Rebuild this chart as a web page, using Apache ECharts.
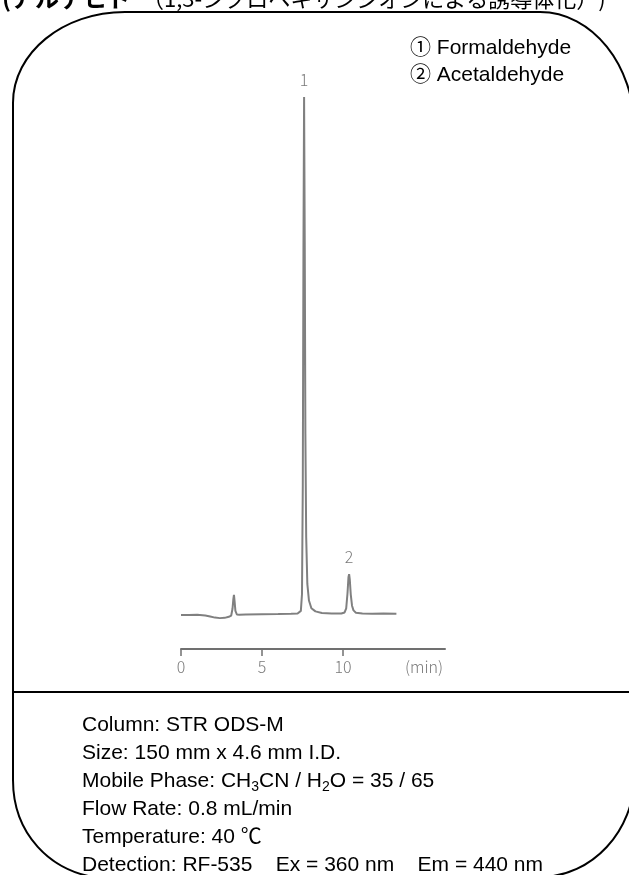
<!DOCTYPE html>
<html>
<head>
<meta charset="utf-8">
<script src="https://cdn.jsdelivr.net/npm/echarts@6/dist/echarts.min.js"></script>
<style>
html,body{margin:0;padding:0;background:#fff;}
#c{width:629px;height:875px;}
</style>
</head>
<body>
<div id="c"></div>
<script>
// ---- data ----
var times  = [0, 0.5, 1.0, 1.5, 1.8, 2.1, 2.4, 2.7, 2.95, 3.1,
              3.18, 3.23, 3.27, 3.31, 3.36, 3.45, 3.6, 4.0, 5.0, 6.0,
              6.8, 7.2, 7.4, 7.47, 7.52, 7.56, 7.6, 7.64, 7.68, 7.73,
              7.8, 7.9, 8.05, 8.3, 8.7, 9.3, 9.9, 10.1, 10.2, 10.28,
              10.34, 10.38, 10.42, 10.48, 10.56, 10.65, 10.8, 11.2, 11.8, 12.5,
              13.3];
var signal = [0, 0, 0.05, -0.1, -0.3, -0.5, -0.6, -0.55, -0.35, -0.1,
              1.2, 3.0, 3.9, 2.6, 0.8, 0.1, 0.05, 0.1, 0.15, 0.2,
              0.25, 0.3, 0.8, 4, 25, 70, 100, 72, 35, 15,
              6, 2.8, 1.3, 0.7, 0.4, 0.3, 0.3, 0.5, 1.3, 4.2,
              7.3, 7.9, 6.9, 4.0, 1.8, 0.9, 0.45, 0.3, 0.25, 0.3,
              0.25];
var peakNames = ['1', '2'];
var peakTimes = [7.6, 10.38];
var peakHeights = [100, 7.9];
var xTickValues = [0, 5, 10];
var xLabelValues = [0, 5, 10, 15];
var xUnitLabel = '(min)';
var legendLines = ['\u2460 Formaldehyde', '\u2461 Acetaldehyde'];
var titleBold = '(\u30a2\u30eb\u30c7\u30d2\u30c9';
var titleRest = '\uff081,3-\u30b7\u30af\u30ed\u30d8\u30ad\u30b5\u30f3\u30b8\u30aa\u30f3\u306b\u3088\u308b\u8a98\u5c0e\u4f53\u5316\uff09)';
var conditionLines = [
  'Column: STR ODS-M',
  'Size: 150 mm x 4.6 mm I.D.',
  'Mobile Phase: CH{sub|3}CN / H{sub|2}O = 35 / 65',
  'Flow Rate: 0.8 mL/min',
  'Temperature: 40 \u2103',
  'Detection: RF-535    Ex = 360 nm    Em = 440 nm'
];

var chart = echarts.init(document.getElementById('c'), null, {renderer: 'canvas'});
var seriesData = times.map(function (t, i) { return [t, signal[i]]; });
var markData = peakNames.map(function (n, i) {
  return {coord: [peakTimes[i], peakHeights[i]], value: n};
});

var FONT = '"Liberation Sans", Arial, "Noto Sans CJK JP", sans-serif';
var frameStyle = {stroke: '#000', lineWidth: 2, fill: null};
var graphics = [
  // frame
  {type: 'line', shape: {x1: 124, y1: 12, x2: 541, y2: 12}, style: frameStyle},
  {type: 'bezierCurve', shape: {x1: 13, y1: 103, cpx1: 13, cpy1: 52.7, cpx2: 63, cpy2: 12, x2: 125, y2: 12}, style: frameStyle},
  {type: 'bezierCurve', shape: {x1: 540, y1: 12, cpx1: 592, cpy1: 12, cpx2: 634.5, cpy2: 65, x2: 634.5, y2: 130}, style: frameStyle},
  {type: 'line', shape: {x1: 13, y1: 102, x2: 13, y2: 781}, style: frameStyle},
  {type: 'bezierCurve', shape: {x1: 13, y1: 780, cpx1: 13, cpy1: 833.6, cpx2: 50, cpy2: 872, x2: 100, y2: 878}, style: frameStyle},
  {type: 'bezierCurve', shape: {x1: 634.5, y1: 775, cpx1: 634.5, cpy1: 831, cpx2: 592, cpy2: 877, x2: 540, y2: 877}, style: frameStyle},
  {type: 'line', shape: {x1: 13, y1: 692, x2: 640, y2: 692}, style: frameStyle},
  // clipped title
  {type: 'text', x: 2, y: 10, style: {text: titleBold, font: 'bold 24px "Noto Sans CJK JP", sans-serif', fill: '#000', textVerticalAlign: 'bottom'}},
  {type: 'text', x: 142, y: 10, style: {text: titleRest, font: '22px "Noto Sans CJK JP", sans-serif', fill: '#000', textVerticalAlign: 'bottom'}}
];
legendLines.forEach(function (s, i) {
  graphics.push({type: 'text', x: 410, y: 48 + 27 * i,
    style: {text: s, fontSize: 21, fontFamily: FONT, fill: '#000', textVerticalAlign: 'middle'}});
});
conditionLines.forEach(function (s, i) {
  graphics.push({type: 'text', x: 82, y: 725 + 28 * i,
    style: {text: s, fontSize: 21, fontFamily: FONT, fill: '#000', textVerticalAlign: 'middle',
      rich: {sub: {fontSize: 14, fontFamily: FONT, fill: '#000', verticalAlign: 'bottom', lineHeight: 26}}}});
});

var option = {
  animation: false,
  backgroundColor: '#fff',
  grid: {left: 181, right: 184, top: 97, bottom: 226, containLabel: false},
  xAxis: {
    type: 'value', min: 0, max: 16.3, interval: 5,
    splitLine: {show: false},
    axisLine: {show: true, onZero: false, lineStyle: {color: '#707070', width: 2}},
    axisTick: {show: true, length: 7, customValues: xTickValues, lineStyle: {color: '#707070', width: 1.5}},
    axisLabel: {
      show: true, margin: 10, color: '#7a7a7a', fontSize: 16,
      fontFamily: '"Noto Sans CJK JP", sans-serif', fontWeight: 300,
      customValues: xLabelValues,
      formatter: function (v) { return v === 15 ? xUnitLabel : String(v); }
    }
  },
  yAxis: {type: 'value', min: -6.56, max: 100, show: false},
  series: [{
    type: 'line',
    data: seriesData,
    showSymbol: false,
    smooth: false,
    lineStyle: {color: '#808080', width: 2},
    markPoint: {
      symbol: 'circle', symbolSize: 0,
      label: {show: true, position: 'top', distance: 9, formatter: '{c}',
        color: '#7a7a7a', fontSize: 16, fontFamily: '"Noto Sans CJK JP", sans-serif', fontWeight: 300},
      data: markData
    }
  }],
  graphic: graphics
};
chart.setOption(option);
</script>
</body>
</html>
